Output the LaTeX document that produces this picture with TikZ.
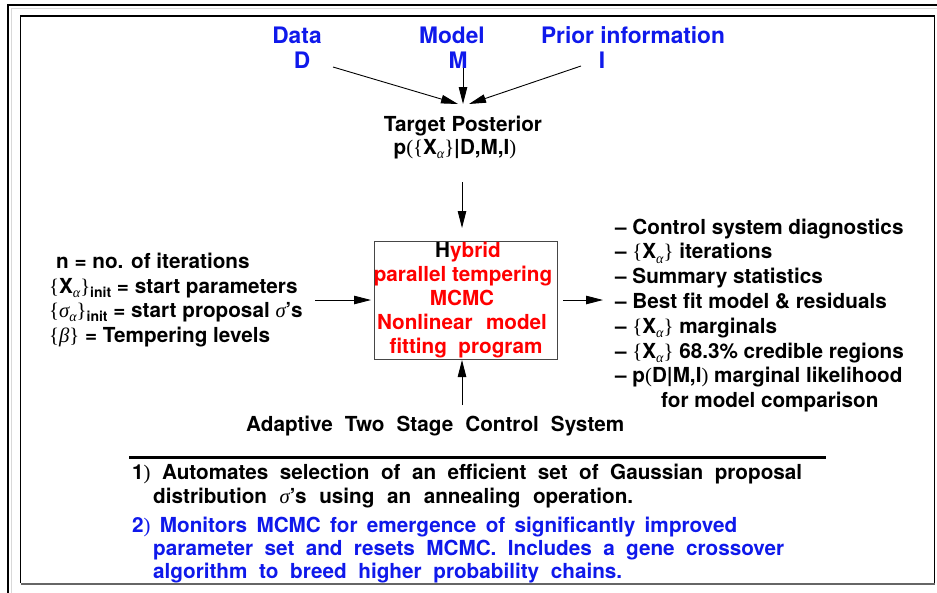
\documentclass[tikz,border=0pt]{standalone}
\usepackage{fontspec}
\setmainfont{TeX Gyre Heros}
\newfontfamily\seriffam{Liberation Serif}
\usetikzlibrary{arrows.meta}
\definecolor{lblue}{RGB}{15,25,235}
\definecolor{lred}{RGB}{255,0,0}
\definecolor{boxgray}{RGB}{70,70,70}
\newcommand\gk[1]{{\seriffam\mdseries\itshape #1}}
\newcommand\sv[1]{{\seriffam\mdseries #1}}
\newcommand\dn[1]{\raisebox{-4.5pt}{\fontsize{14}{14}\selectfont #1}}
\newcommand\Xa{\sv{\{}X\dn{\gk{α}}\sv{\}}}
\tikzset{
  txt/.style={font=\bfseries\fontsize{20.7}{24.8}\selectfont, inner sep=0pt, anchor=base west},
  ctxt/.style={txt, anchor=base},
  rtxt/.style={ctxt, text=lred},
  btxt/.style={txt, text=lblue},
  toplbl/.style={font=\bfseries\fontsize{22.7}{26}\selectfont, text=lblue, inner sep=0pt, anchor=base},
  arr/.style={-{Triangle[length=17pt,width=8.5pt]}, line width=0.9pt},
  mainbox/.style={draw=boxgray, line width=0.9pt, minimum width=183pt, minimum height=118pt, inner sep=0pt}
}
\begin{document}
\begin{tikzpicture}[x=1pt,y=-1pt]
\useasboundingbox (0,0) rectangle (937,592);
\fill[white] (0,0) rectangle (937,592);
% frames
\draw[gray!30, line width=1pt] (11.5,600) -- (11.5,8.5) -- (945,8.5);
\draw[line width=1.4pt] (8,600) -- (8,5) -- (945,5);
\draw[line width=1.2pt] (20.5,583) -- (20.5,16) -- (934.5,16) -- (934.5,583);
\draw[line width=2pt, black!60] (20.5,583.5) -- (934.5,583.5);
% top labels
\node[toplbl] (data) at (297,43) {Data};
\node[toplbl] (dd) at (302,68) {D};
\node[toplbl] (model) at (452,43) {Model};
\node[toplbl] (mm) at (458,68) {M};
\node[toplbl] (prior) at (633,43) {Prior information};
\node[toplbl] (ii) at (602,68) {I};
\coordinate (dS) at (333,67);
\coordinate (dT) at (458,104);
\coordinate (mS) at (463,68);
\coordinate (mT) at (463,104);
\coordinate (iS) at (581,66);
\coordinate (iT) at (469,104);
\draw[arr] (dS) -- (dT);
\draw[arr] (mS) -- (mT);
\draw[arr] (iS) -- (iT);
% target posterior
\node[ctxt] (tp) at (463,131) {Target Posterior};
\node[ctxt] (tp2) at (455,154) {p\sv{(}\Xa|D,M,I\sv{)}};
\coordinate (pS) at (462,182);
\coordinate (pT) at (462,228);
\draw[arr] (pS) -- (pT);
% main box
\node[mainbox] (box) at (465.5,300) {};
\node[rtxt] (b1) at (468,257) {\textcolor{black}{H}ybrid};
\node[rtxt] (b2) at (463,281) {parallel tempering};
\node[rtxt] (b3) at (462,305) {MCMC};
\node[rtxt] (b4) at (462,329) {\makebox[170pt][s]{Nonlinear model}};
\node[rtxt] (b5) at (466,353) {\makebox[153pt][s]{fitting program}};
% left inputs
\node[txt] (l1) at (56,268) {n = no. of iterations};
\node[txt] (l2) at (49,293) {\Xa\dn{init} = start parameters};
\node[txt] (l3) at (49,317) {\sv{\{}\gk{σ}\dn{\gk{α}}\sv{\}}\dn{init} = start proposal \gk{σ}'s};
\node[txt] (l4) at (49,342) {\sv{\{}\gk{β}\sv{\}} = Tempering levels};
\coordinate (lS) at (315,300);
\coordinate (lT) at (371,300);
\draw[arr] (lS) -- (lT);
% right outputs
\coordinate (rS) at (563,300);
\coordinate (rT) at (603,300);
\draw[arr] (rS) -- (rT);
\node[txt] (r1) at (615,234) {– Control system diagnostics};
\node[txt] (r2) at (615,258.8) {– \Xa\ iterations};
\node[txt] (r3) at (615,283.6) {– Summary statistics};
\node[txt] (r4) at (615,308.4) {– Best fit model \& residuals};
\node[txt] (r5) at (615,333.2) {– \Xa\ marginals};
\node[txt] (r6) at (615,358) {– \Xa\ 68.3\% credible regions};
\node[txt] (r7) at (615,382.8) {– p\sv{(}D|M,I\sv{)} marginal likelihood};
\node[txt] (r8) at (661,407.6) {for model comparison};
% control system
\coordinate (cS) at (462,405);
\coordinate (cT) at (462,360);
\draw[arr] (cS) -- (cT);
\node[txt] (ctrl) at (246,431) {\makebox[378pt][s]{Adaptive Two Stage Control System}};
\draw[line width=3pt] (129,457.5) -- (826,457.5);
\node[txt] (t1) at (132,479) {\makebox[670pt][s]{1\sv{)} Automates selection of an efficient set of Gaussian proposal}};
\node[txt] (t2) at (153,503) {\makebox[480pt][s]{distribution \gk{σ}'s using an annealing operation.}};
\node[btxt] (t3) at (132,532) {\makebox[605pt][s]{2\sv{)} Monitors MCMC for emergence of significantly improved}};
\node[btxt] (t4) at (153,555) {\makebox[631pt][s]{parameter set and resets MCMC. Includes a gene crossover}};
\node[btxt] (t5) at (153,578) {\makebox[469pt][s]{algorithm to breed higher probability chains.}};
\end{tikzpicture}
\end{document}
